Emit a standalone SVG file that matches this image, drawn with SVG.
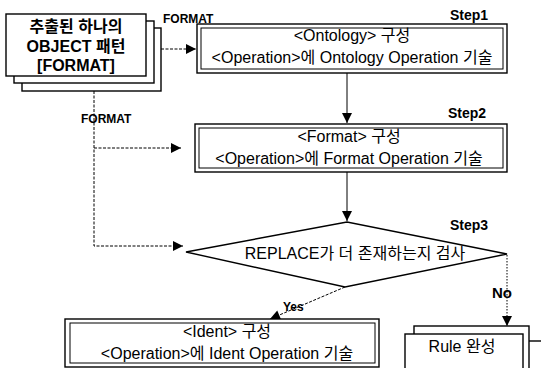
<svg xmlns="http://www.w3.org/2000/svg" width="541" height="368" viewBox="0 0 541 368">
<style>
text{font-family:"Liberation Sans","Noto Sans CJK KR",sans-serif;fill:#000}
.box{fill:#fff;stroke:#000;stroke-width:1.4}
.in{fill:none;stroke:#000;stroke-width:1}
.b{font-weight:bold}
.t{font-size:16px;text-anchor:middle}
.lbl{font-size:12px;font-weight:bold}
.step{font-size:14px;font-weight:bold;text-anchor:end}
.con{fill:none;stroke:#000;stroke-width:1}
.dash{stroke-dasharray:3 1.5}
.dot{stroke-dasharray:1.5 1.5}
</style>
<defs>
<marker id="ah" viewBox="0 0 10 10" refX="10" refY="5" markerWidth="11" markerHeight="10" markerUnits="userSpaceOnUse" orient="auto"><path d="M0,0 L10,5 L0,10 z" fill="#000"/></marker>
</defs>
<rect width="541" height="368" fill="#fff"/>
<g id="connectors">
<path class="con dash" d="M161,49 H196" marker-end="url(#ah)"/>
<path class="con dash" d="M94,91 V246 H183" marker-end="url(#ah)"/>
<path class="con dash" d="M94,148 H181" marker-end="url(#ah)"/>
<path class="con" d="M347,73 V123" marker-end="url(#ah)"/>
<path class="con" d="M347,172 V221" marker-end="url(#ah)"/>
<path class="con dash" d="M345,287 L270,319" marker-end="url(#ah)"/>
<path class="con dot" d="M507,255 V326" marker-end="url(#ah)"/>
<text class="lbl" x="163" y="23">FORMAT</text>
<text class="lbl" x="81" y="123">FORMAT</text>
<text class="lbl" x="283" y="311">Yes</text>
<text class="b" x="492" y="298" font-size="15">No</text>
</g>
<g id="source">
<rect class="box" x="22" y="28" width="139" height="63"/>
<rect class="box" x="14" y="21" width="140" height="62"/>
<rect class="box" x="6" y="14" width="140" height="62"/>
<text class="t b" x="76" y="32" font-size="15.5">추출된 하나의</text>
<text class="t b" x="76" y="52" font-size="15.5">OBJECT 패턴</text>
<text class="t b" x="76" y="71" font-size="15.5">[FORMAT]</text>
</g>
<g id="step1">
<rect class="box" x="197" y="24" width="310" height="49"/>
<rect class="in" x="201" y="28" width="302" height="41"/>
<text class="t" x="352" y="41">&lt;Ontology&gt; 구성</text>
<text class="t" x="352" y="63">&lt;Operation&gt;에 Ontology Operation 기술</text>
<text class="step" x="488" y="20">Step1</text>
</g>
<g id="step2">
<rect class="box" x="195" y="124" width="312" height="48"/>
<rect class="in" x="199" y="128" width="304" height="40"/>
<text class="t" x="349" y="142">&lt;Format&gt; 구성</text>
<text class="t" x="349" y="164">&lt;Operation&gt;에 Format Operation 기술</text>
<text class="step" x="486" y="118">Step2</text>
</g>
<g id="step3">
<polygon points="186,252 347,222 507,254 345,287" fill="#fff" stroke="#000" stroke-width="1.4"/>
<text class="t" x="355" y="259">REPLACE가 더 존재하는지 검사</text>
<text class="step" x="488" y="230">Step3</text>
</g>
<g id="ident">
<rect class="box" x="65" y="319" width="314" height="48"/>
<rect class="in" x="70" y="323" width="305" height="40"/>
<text class="t" x="227" y="337" font-size="17.5">&lt;Ident&gt; 구성</text>
<text class="t" x="227" y="359" font-size="18">&lt;Operation&gt;에 Ident Operation 기술</text>
</g>
<g id="rule">
<rect class="box" x="427" y="341" width="140" height="50"/>
<rect class="box" x="414" y="326" width="115" height="50"/>
<rect class="box" x="405" y="334" width="118" height="50"/>
<text class="t" x="462" y="352" font-size="15">Rule 완성</text>
</g>
</svg>
